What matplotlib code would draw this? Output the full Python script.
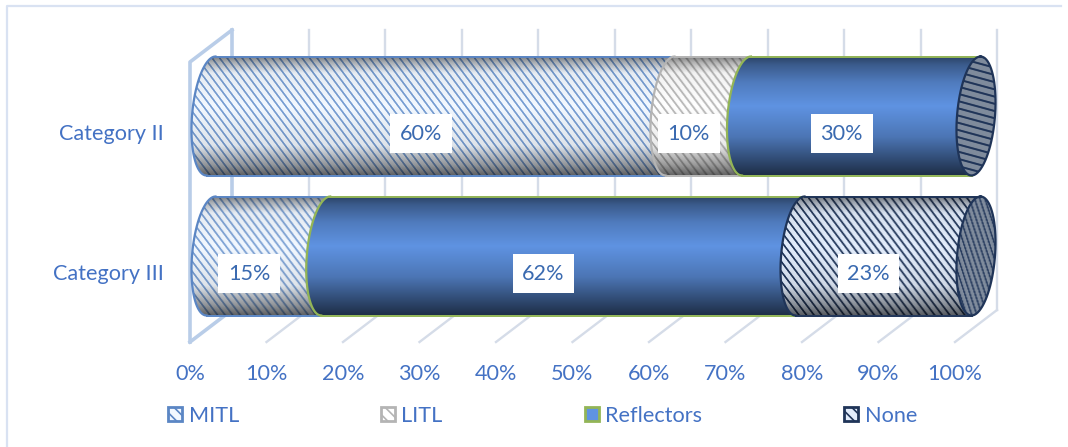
import numpy as np
import matplotlib
matplotlib.use("Agg")
import matplotlib.pyplot as plt
from matplotlib.patches import Patch
from matplotlib.lines import Line2D
from matplotlib.path import Path

categories = ["Category II", "Category III"]
series_names = ["MITL", "LITL", "Reflectors", "None"]
mitl = [60, 15]
litl = [10, 0]
reflectors = [30, 62]
none = [0, 23]
tick_labels = ["0%", "10%", "20%", "30%", "40%", "50%", "60%", "70%", "80%", "90%", "100%"]

FIG_W, FIG_H = 1068, 447
# plot area in pixels (front plane of the 3d box)
LEFT, RIGHT, TOP, BOTTOM = 190, 955, 62, 342
PX_X = (RIGHT - LEFT) / 100.0   # pixels per percent
PX_Y = (BOTTOM - TOP) / 2.0     # pixels per category

TEXT_COL = "#4472c4"
LABEL_COL = "#3a6ab0"
FONT_SIZE = 15.6

# background, stripe, outline
styles = {
    "MITL": ("#f2f8ff", "#7aa0d4", "#5b86c4"),
    "LITL": ("#ffffff", "#b5b5b5", "#b4b4b4"),
    "Reflectors": ("#5f93e2", None, "#93b556"),
    "None": ("#e2ecfb", "#1f3458", "#1f3458"),
}


def to_rgb(c):
    return np.array(matplotlib.colors.to_rgb(c))


# Dark at the top and bottom rims, brightest a little above the middle.
# The solid series fades more gradually than the striped ones.
def shading(v, solid):
    if solid:
        return np.interp(v, [0, 0.07, 0.22, 0.42, 0.68, 0.88, 1.0],
                         [0.45, 0.62, 0.84, 1.0, 0.8, 0.5, 0.32])
    return np.interp(v, [0, 0.05, 0.14, 0.42, 0.75, 0.92, 1.0],
                     [0.5, 0.7, 0.95, 1.0, 0.92, 0.6, 0.4])


def texture(name, w, h, period=7.5, slant=0.75, bg=None, flat=False):
    face, stripe, _ = styles[name]
    if bg is not None:
        face = bg
    yy, xx = np.mgrid[0:h, 0:w]
    img = to_rgb(face) * np.ones((h, w, 3))
    if stripe is not None:
        u = (xx - yy * slant) / period
        # thin lines, about a quarter of the period
        amount = np.clip(1.6 * np.cos(2 * np.pi * u) - 0.45, 0, 1)[..., None]
        img = img * (1 - amount) + to_rgb(stripe) * amount
    if not flat:
        img = img * shading(yy / (h - 1.0), stripe is None)[..., None]
    return np.clip(img, 0, 1)


# Left half of the tilted ellipse that closes a cylinder at percentage p
def edge(p, yc, n=40):
    th = np.linspace(-np.pi / 2, np.pi / 2, n)
    x = p + DX - A * np.cos(th) - SHEAR * np.sin(th)
    y = yc + B * np.sin(th)
    return x, y


def right_half(p, yc, n=40):
    th = np.linspace(np.pi / 2, -np.pi / 2, n)
    x = p + DX + A * np.cos(th) - SHEAR * np.sin(th)
    y = yc + B * np.sin(th)
    return x, y


def put_image(ax, img, x0, x1, yc, clip_x, clip_y, z):
    im = ax.imshow(img, extent=(x0, x1, yc + B, yc - B), aspect="auto",
                   interpolation="bilinear", zorder=z)
    verts = np.column_stack([clip_x, clip_y])
    im.set_clip_path(Path(np.vstack([verts, verts[0]])), transform=ax.transData)
    im.set_clip_box(ax.figure.bbox)


def draw_segment(ax, name, start, value, yc):
    x_l, y_l = edge(start, yc)
    x_r, y_r = edge(start + value, yc)
    clip_x = np.concatenate([x_l, x_r[::-1]])
    clip_y = np.concatenate([y_l, y_r[::-1]])
    x0, x1 = start - A - SHEAR + DX, start + value + A + SHEAR + DX
    w = int((x1 - x0) * PX_X)
    h = int(2 * B * PX_Y)
    put_image(ax, texture(name, w, h), x0, x1, yc, clip_x, clip_y, 3)
    col = styles[name][2]
    ax.plot(x_l, y_l, color=col, lw=1.6, zorder=4, clip_on=False)
    ax.plot([x_l[0], x_r[0]], [y_l[0], y_r[0]], color=col, lw=1.4, zorder=4, clip_on=False)
    ax.plot([x_l[-1], x_r[-1]], [y_l[-1], y_r[-1]], color=col, lw=1.4, zorder=4, clip_on=False)


def draw_cap(ax, yc, period, slant):
    x_l, y_l = edge(100, yc)
    x_r, y_r = right_half(100, yc)
    clip_x = np.concatenate([x_l, x_r])
    clip_y = np.concatenate([y_l, y_r])
    x0, x1 = 100 + DX - A - SHEAR, 100 + DX + A + SHEAR
    w = int((x1 - x0) * PX_X)
    h = int(2 * B * PX_Y)
    img = texture("None", w, h, period=period, slant=slant, bg="#7f8b9c", flat=True)
    put_image(ax, img, x0, x1, yc, clip_x, clip_y, 5)
    ax.plot(clip_x, clip_y, color=styles["None"][2], lw=1.6, zorder=6, clip_on=False)


fig = plt.figure(figsize=(FIG_W / 100, FIG_H / 100), dpi=100)
plt.rcParams["font.family"] = ["Lato", "DejaVu Sans"]
plt.rcParams["hatch.linewidth"] = 1.2
ax = fig.add_axes([LEFT / FIG_W, 1 - BOTTOM / FIG_H, (RIGHT - LEFT) / FIG_W, (BOTTOM - TOP) / FIG_H])

# geometry of the 3d look, converted to data units
DEPTH_X, DEPTH_Y = 42 / PX_X, 32 / PX_Y
DX = DEPTH_X / 2
DY = DEPTH_Y / 2
A = 19 / PX_X
SHEAR = 4.5 / PX_X
B = 59.5 / PX_Y

# walls and floor
wall = "#d5dce8"
wall_left = "#b9cde8"
for p in np.arange(0, 101, 10):
    col, lw = (wall_left, 2.6) if p == 0 else (wall, 1.7)
    ax.plot([p + DEPTH_X] * 2, [-DEPTH_Y, 2 - DEPTH_Y], color=col, lw=lw, zorder=1, clip_on=False)
    ax.plot([p, p + DEPTH_X], [2, 2 - DEPTH_Y], color=col, lw=lw, zorder=1, clip_on=False)
ax.plot([DEPTH_X, 0, 0], [-DEPTH_Y, 0, 2], color=wall_left, lw=2.6, zorder=2, clip_on=False)

series = [mitl, litl, reflectors, none]
for row, cat in enumerate(categories):
    slot = row + 0.5
    yc = slot - DY
    start = 0
    for name, vals in zip(series_names, series):
        v = vals[row]
        if v == 0:
            continue
        draw_segment(ax, name, start, v, yc)
        ax.text(start + v / 2 + 0.2, slot + 0.012, f"{v}%", color=LABEL_COL, fontsize=FONT_SIZE,
                ha="center", va="center", zorder=8,
                bbox=dict(boxstyle="square,pad=0.44", fc="white", ec="none"))
        start += v

draw_cap(ax, 0.5 - DY, 26.0, 3.6)
draw_cap(ax, 1.5 - DY, 5.0, 0.32)

ax.set_xlim(0, 100)
ax.set_ylim(2, 0)
ax.set_xticks(np.arange(0, 101, 10))
ax.set_xticklabels(tick_labels)
ax.set_yticks([0.5, 1.5])
ax.set_yticklabels(categories)
ax.tick_params(axis="x", length=0, pad=15.5, labelcolor=TEXT_COL, labelsize=FONT_SIZE)
ax.tick_params(axis="y", length=0, pad=19, labelcolor=TEXT_COL, labelsize=FONT_SIZE)
for s in ax.spines.values():
    s.set_visible(False)
ax.patch.set_alpha(0)

handles = []
for name in series_names:
    face, stripe, line = styles[name]
    if stripe is None:
        handles.append(Patch(facecolor=face, edgecolor=line, lw=2))
    else:
        handles.append(Patch(facecolor=face, edgecolor=line, lw=2, hatch="\\\\\\"))
fig.legend(handles, series_names, ncols=4, frameon=False, fontsize=FONT_SIZE, labelcolor=TEXT_COL,
           loc="center left", bbox_to_anchor=(168 / FIG_W, 1 - 415.5 / FIG_H),
           columnspacing=6.55, handlelength=0.65, handleheight=0.65, handletextpad=0.3,
           borderpad=0, borderaxespad=0)

# chart frame, only its left and top sides show
fig.add_artist(Line2D([7 / FIG_W, 7 / FIG_W, 1061 / FIG_W], [0, 1 - 6 / FIG_H, 1 - 6 / FIG_H],
                      transform=fig.transFigure, color="#d9e2f2", lw=1.6))

fig.savefig("out.png", dpi=100)
